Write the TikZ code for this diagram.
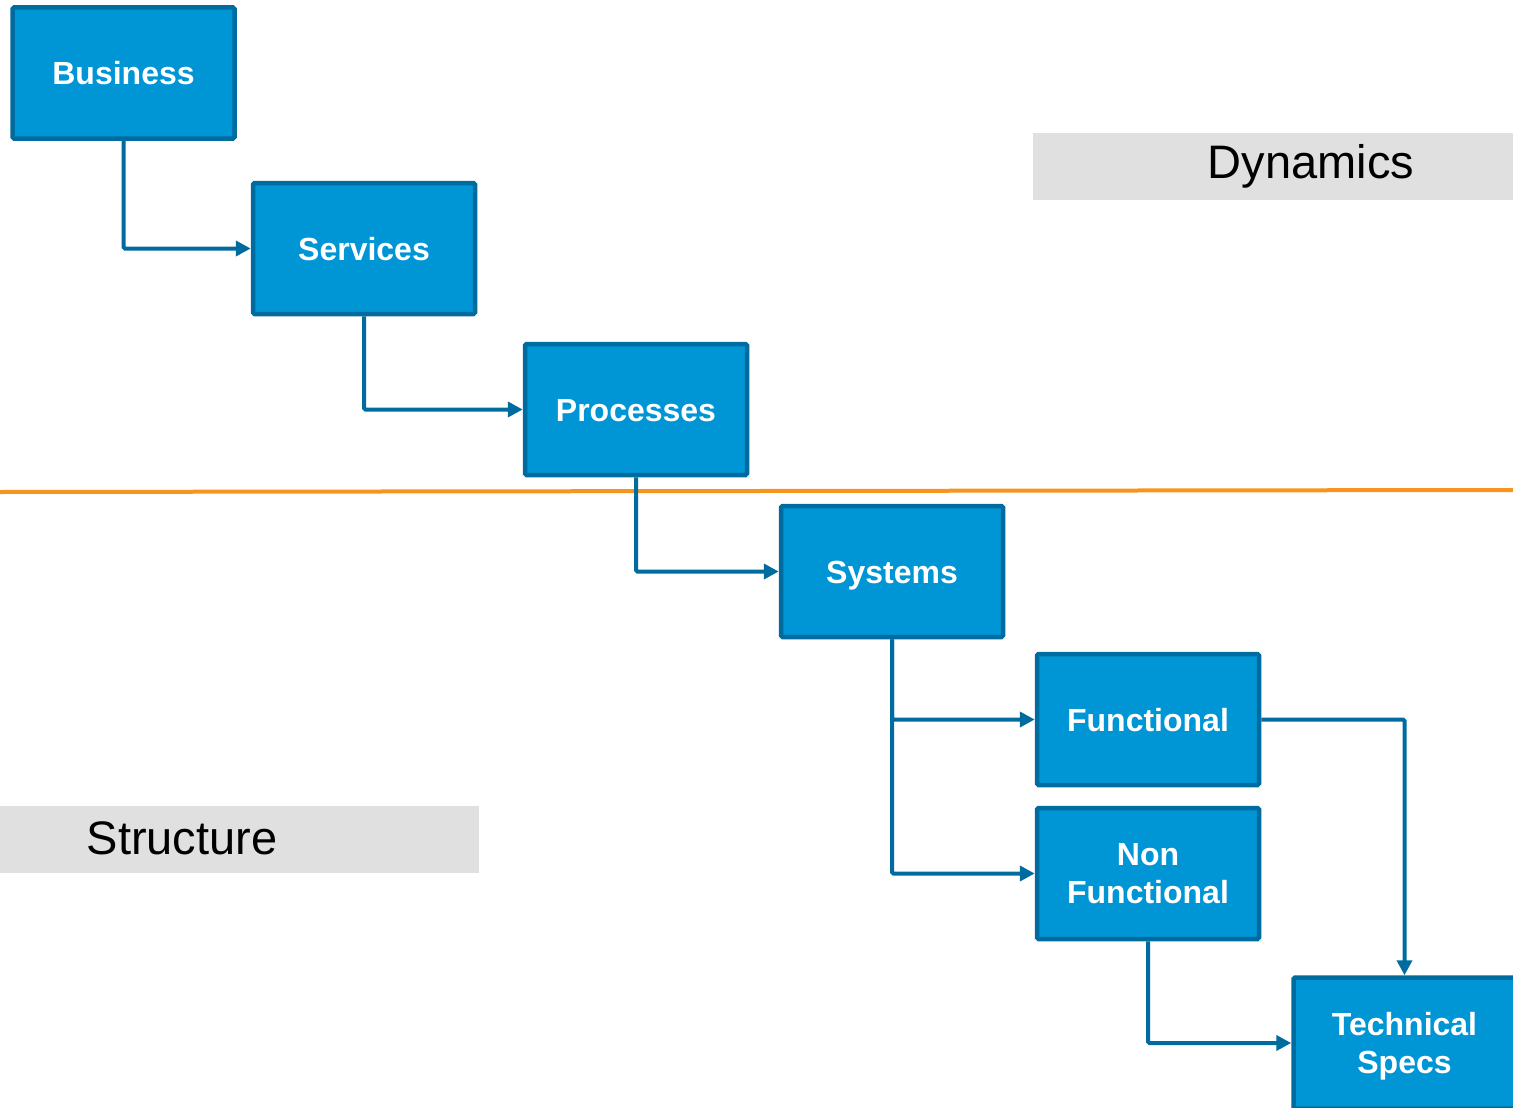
\documentclass[tikz,border=0pt]{standalone}
\usepackage{fontspec}
\setmainfont{Liberation Sans}
\usetikzlibrary{arrows.meta}
\definecolor{boxfill}{RGB}{0,150,213}
\definecolor{boxline}{RGB}{0,107,158}
\definecolor{orangeline}{RGB}{247,148,29}
\definecolor{greyband}{RGB}{224,224,224}
\begin{document}
\begin{tikzpicture}[x=1pt,y=-1pt,
  stepbox/.style={draw=boxline, fill=boxfill, line width=4.5pt, rounded corners=1.5pt,
    minimum width=222pt, minimum height=131pt, inner sep=0pt,
    text=white, align=center, font=\fontsize{32}{38}\selectfont\bfseries},
  oneline/.style={text height=25pt, text depth=2pt},
  link/.style={draw=boxline, line width=4pt, rounded corners=1.5pt,
    -{Triangle[length=15pt,width=15pt]}},
  band/.style={fill=greyband, draw=none},
  bandtext/.style={font=\fontsize{47}{56}\selectfont, text=black, inner sep=0pt}
]
\useasboundingbox (0,0) rectangle (1513,1108);
% grey bands
\fill[band] (1033,133) rectangle (1513,200);
\node[bandtext] (dyn) at (1311,166) {Dynamics};
\fill[band] (0,806) rectangle (479,873);
\node[bandtext] (str) at (182,838) {Structure};
% orange divider
\draw[orangeline, line width=4pt] (0,492) -- (1513,490);
% boxes
\node[stepbox,oneline] (business) at (123.5,73) {Business};
\node[stepbox,oneline] (services) at (364,248.5) {Services};
\node[stepbox,oneline] (processes) at (636,409.5) {Processes};
\node[stepbox,oneline] (systems) at (892,571.5) {Systems};
\node[stepbox,oneline] (functional) at (1148,719.5) {Functional};
\node[stepbox] (nonfunc) at (1148,873.5) {Non\\Functional};
\node[stepbox] (tech) at (1404.5,1043) {Technical\\\raisebox{0pt}[\height][0pt]{Specs}};
% connectors
\draw[link] (business.south) |- (services.west);
\draw[link] (services.south) |- (processes.west);
\draw[link] (processes.south) |- (systems.west);
\draw[link] (systems.south) |- (functional.west);
\draw[link] (systems.south) |- (nonfunc.west);
\draw[link] (functional.east) -| (tech.north);
\draw[link] (nonfunc.south) |- (tech.west);
\end{tikzpicture}
\end{document}
